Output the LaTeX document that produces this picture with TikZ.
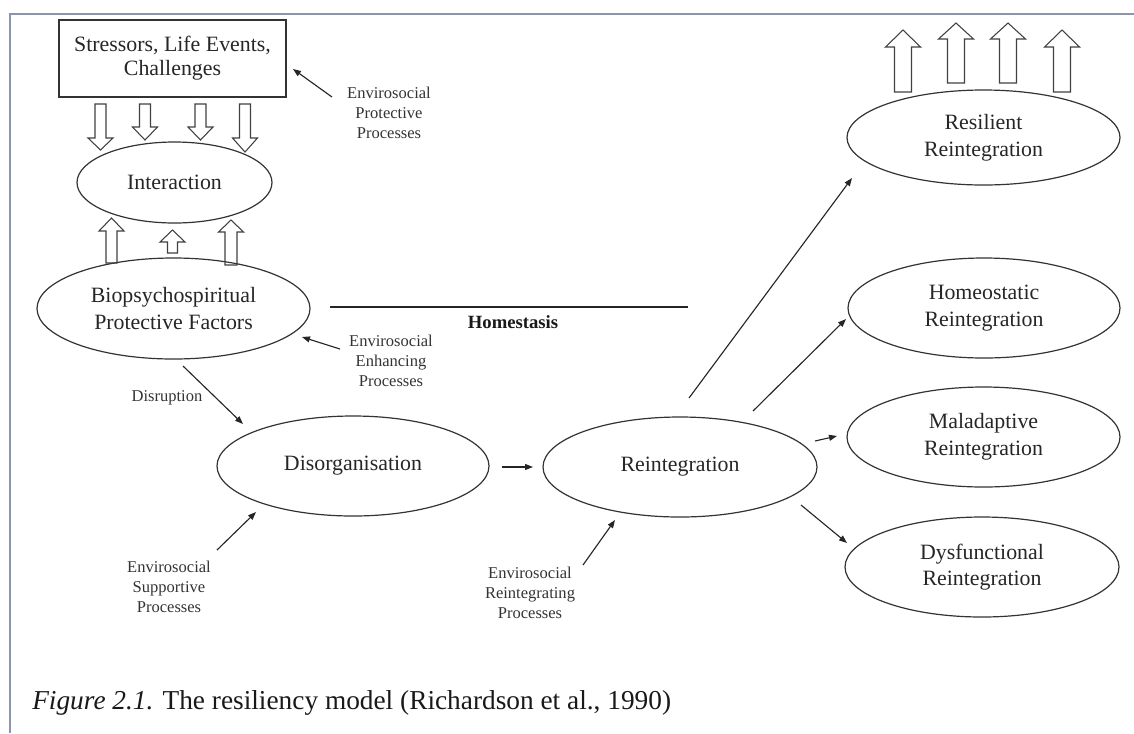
\documentclass[tikz,border=0pt]{standalone}
\usepackage{fontspec}
\setmainfont{Liberation Serif}
\usetikzlibrary{shapes.geometric,arrows.meta}
\newcommand\mainlab{\fontsize{16.4}{20}\selectfont}
\newcommand\boxlab{\fontsize{16.4}{18}\selectfont}
\newcommand\smalllab{\fontsize{12.4}{15}\selectfont}
\newcommand\homlab{\fontsize{14}{16}\selectfont\bfseries}
\newcommand\caplab{\fontsize{20.5}{24}\selectfont}
\definecolor{framecol}{RGB}{140,150,170}
\begin{document}
\begin{tikzpicture}[x=0.75pt,y=-0.75pt,
  ell/.style n args={2}{ellipse,draw=black!80,line width=0.9pt,inner sep=0pt,
    minimum width={#1*0.75pt},minimum height={#2*0.75pt},align=center,
    font=\mainlab,text=black!85},
  boxnode/.style={rectangle,draw=black!80,line width=0.9pt,inner sep=0pt,
    minimum width={227*0.75pt},minimum height={77*0.75pt},align=center,
    font=\boxlab,text=black!85},
  small/.style={align=center,font=\smalllab,text=black!80,inner sep=0pt},
  arr/.style={draw=black!85,line width=0.85pt,-{Triangle[length=6pt,width=4.5pt]}},
  blk/.style={draw=black!75,line width=0.8pt,line join=miter},
  plain/.style={draw=black!85,line width=0.9pt},
  frame/.style={draw=framecol,line width=1.4pt}]
\useasboundingbox (0,0) rectangle (1134,733);
% frame
\coordinate (f1) at (10,733);
\coordinate (f2) at (10,14);
\coordinate (f3) at (1134,14);
\draw[frame] (f1) -- (f2) -- (f3);

% nodes
\node[boxnode] (stress) at (172.5,58.5) {Stressors, Life Events,\\Challenges};
\node[ell={195}{81}] (inter) at (174.5,182.5) {Interaction};
\node[ell={273}{101}] (bio) at (173.5,308.5) {Biopsychospiritual\\Protective Factors};
\node[ell={272}{100}] (dis) at (353,466) {Disorganisation};
\node[ell={274}{100}] (reint) at (680,467) {Reintegration};
\node[ell={273}{95}] (res) at (983.5,137.5) {Resilient\\Reintegration};
\node[ell={272}{100}] (hom) at (984,308) {Homeostatic\\Reintegration};
\node[ell={273}{100}] (mal) at (983.5,437) {Maladaptive\\Reintegration};
\node[ell={274}{100}] (dys) at (982,567) {Dysfunctional\\Reintegration};

\node[small] (protlab) at (389,113) {Envirosocial\\Protective\\Processes};
\node[small] (enhlab) at (391,361) {Envirosocial\\Enhancing\\Processes};
\node[small] (disrlab) at (167,398) {Disruption};
\node[small] (suplab) at (169,587) {Envirosocial\\Supportive\\Processes};
\node[small] (reilab) at (530,593) {Envirosocial\\Reintegrating\\Processes};
\node[font=\homlab,text=black!90,inner sep=0pt] (homlab) at (513,322) {Homestasis};
\node[font=\caplab,text=black!90,inner sep=0pt,anchor=west] (cap) at (32,703)
  {\textit{Figure 2.1.} The resiliency model (Richardson et al., 1990)};

% block arrows: down into Interaction
\foreach \cx/\yt/\yb/\yp in {100.5/104/138/150, 145/104/127/140, 200.5/104/127/140, 245/104/138/152}{
  \draw[blk] (\cx-5.5,\yt) -- (\cx+5.5,\yt) -- (\cx+5.5,\yb) -- (\cx+12.5,\yb) -- (\cx,\yp)
    -- (\cx-12.5,\yb) -- (\cx-5.5,\yb) -- cycle;}
% block arrows: up from protective factors
\foreach \cx/\yt/\yb/\yp/\sw in {111.5/263/231/218/5.5, 172.5/253/242/230/5, 231/265/232/220/6}{
  \draw[blk] (\cx-\sw,\yt) -- (\cx+\sw,\yt) -- (\cx+\sw,\yb) -- (\cx+12.5,\yb) -- (\cx,\yp)
    -- (\cx-12.5,\yb) -- (\cx-\sw,\yb) -- cycle;}
% block arrows: up from resilient reintegration
\foreach \cx/\yt/\yb/\yp in {903/92/47/30, 956/83/39/23, 1008/83/39/23, 1062/92/47/30}{
  \draw[blk] (\cx-8.5,\yt) -- (\cx+8.5,\yt) -- (\cx+8.5,\yb) -- (\cx+17.5,\yb) -- (\cx,\yp)
    -- (\cx-17.5,\yb) -- (\cx-8.5,\yb) -- cycle;}

% connector end points
\coordinate (protT) at (332,97);   \coordinate (protH) at (293,69);
\coordinate (enhT) at (340,349);   \coordinate (enhH) at (302,337);
\coordinate (disrT) at (183,366);  \coordinate (disrH) at (243,424);
\coordinate (supT) at (217,550);   \coordinate (supH) at (256,512);
\coordinate (drT) at (502,467);    \coordinate (drH) at (533,467);
\coordinate (reiT) at (583,565);   \coordinate (reiH) at (615,520);
\coordinate (resT) at (689,398);   \coordinate (resH) at (852,178);
\coordinate (homT) at (753,411);   \coordinate (homH) at (846,319);
\coordinate (malT) at (815,441);   \coordinate (malH) at (837,436);
\coordinate (dysT) at (801,505);   \coordinate (dysH) at (847,543);
\coordinate (hsA) at (330,307);    \coordinate (hsB) at (688,307);

\draw[arr] (protT) -- (protH);
\draw[arr] (enhT) -- (enhH);
\draw[arr] (disrT) -- (disrH);
\draw[arr] (supT) -- (supH);
\draw[arr] (drT) -- (drH);
\draw[arr] (reiT) -- (reiH);
\draw[arr] (resT) -- (resH);
\draw[arr] (homT) -- (homH);
\draw[arr] (malT) -- (malH);
\draw[arr] (dysT) -- (dysH);
\draw[plain] (hsA) -- (hsB);
\end{tikzpicture}
\end{document}
